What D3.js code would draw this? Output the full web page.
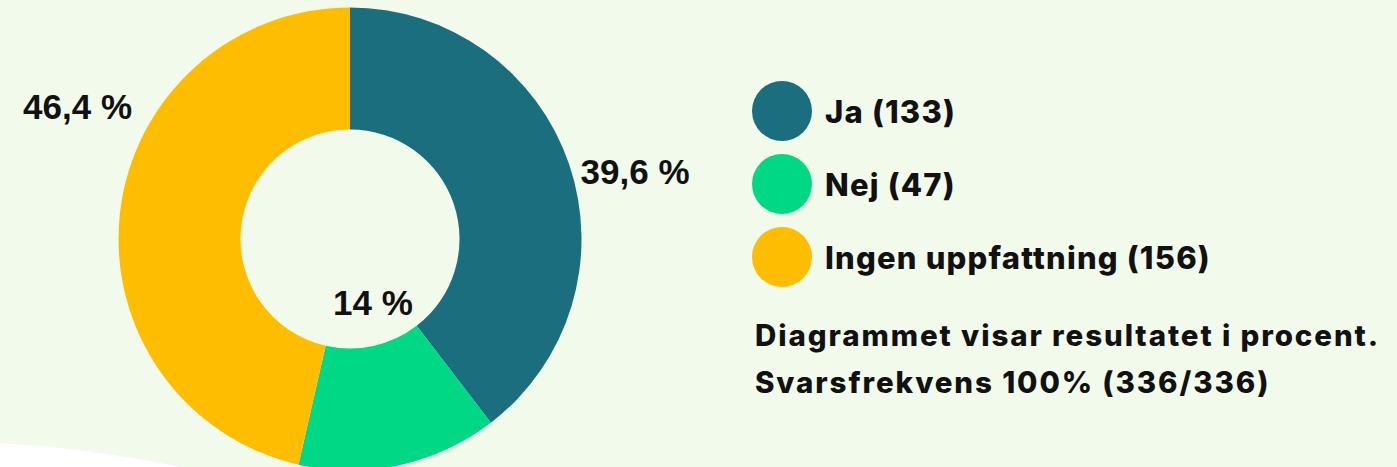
<!DOCTYPE html>
<html lang="sv">
<head>
<meta charset="utf-8">
<title>Svarsfördelning</title>
<script src="https://cdn.jsdelivr.net/npm/d3@7/dist/d3.min.js"></script>
<style>
  html, body { margin: 0; padding: 0; background: #f2fbeb; }
  svg { display: block; }
  .pct { font-family: "Liberation Sans", Arial, sans-serif; font-weight: 700; fill: #111; }
  .legend text, .note { font-family: Inter, "Noto Sans", sans-serif; font-weight: 800; fill: #111; }
</style>
</head>
<body>
<svg id="chart" width="1397" height="467"></svg>
<script>
// Survey answers
const categories = ["Ja", "Nej", "Ingen uppfattning"];
const counts = [133, 47, 156];
const colors = ["#1b6e7d", "#00d886", "#ffbd00"];
const notes = [
  "Diagrammet visar resultatet i procent.",
  "Svarsfrekvens 100% (336/336)"
];

const W = 1397, H = 467;
const cx = 350, cy = 239;
const outerR = 231.5, innerR = 109.5;

const svg = d3.select("#chart");

// soft white wave in the lower left corner
svg.append("path")
  .attr("d", `M0,443 Q100,449 200,${H + 4} L0,${H + 4} Z`)
  .attr("fill", "#ffffff");

const total = d3.sum(counts);
const sv = d3.formatLocale({ decimal: ",", thousands: " ", grouping: [3], currency: ["", " kr"] });
const fmt = sv.format(".1~f");

const pie = d3.pie().sort(null).value(d => d);
const arcs = pie(counts);
const arc = d3.arc().innerRadius(innerR).outerRadius(outerR);

const g = svg.append("g").attr("transform", `translate(${cx},${cy})`);

g.selectAll("path.slice")
  .data(arcs)
  .join("path")
  .attr("class", "slice")
  .attr("d", arc)
  .attr("fill", (d, i) => colors[i]);

// label placement around the ring: angle shift from slice middle (deg) and radius
const labelPlacement = [
  { shift: 5.4, r: 293 },
  { shift: -7.7, r: 67 },
  { shift: 19.5, r: 303 }
];

g.selectAll("text.pct")
  .data(arcs)
  .join("text")
  .attr("class", "pct")
  .attr("font-size", 35)
  .attr("text-anchor", "middle")
  .attr("dy", "0.36em")
  .attr("x", (d, i) => {
    const a = (d.startAngle + d.endAngle) / 2 + labelPlacement[i].shift * Math.PI / 180;
    return Math.sin(a) * labelPlacement[i].r;
  })
  .attr("y", (d, i) => {
    const a = (d.startAngle + d.endAngle) / 2 + labelPlacement[i].shift * Math.PI / 180;
    return -Math.cos(a) * labelPlacement[i].r;
  })
  .text(d => fmt(d.value / total * 100) + " %");

// legend
const legend = svg.append("g").attr("class", "legend").attr("transform", "translate(782,111)");
const rows = legend.selectAll("g")
  .data(categories)
  .join("g")
  .attr("transform", (d, i) => `translate(0,${i * 73})`);

rows.append("circle").attr("r", 30).attr("fill", (d, i) => colors[i]);
rows.append("text")
  .attr("x", 43)
  .attr("y", 12)
  .attr("font-size", 31)
  .attr("letter-spacing", 1.2)
  .text((d, i) => `${d} (${counts[i]})`);

// notes under the legend
svg.selectAll("text.note")
  .data(notes)
  .join("text")
  .attr("class", "note")
  .attr("x", 755)
  .attr("y", (d, i) => 346 + i * 47)
  .attr("font-size", 29.5)
  .attr("letter-spacing", 1.9)
  .text(d => d);
</script>
</body>
</html>
